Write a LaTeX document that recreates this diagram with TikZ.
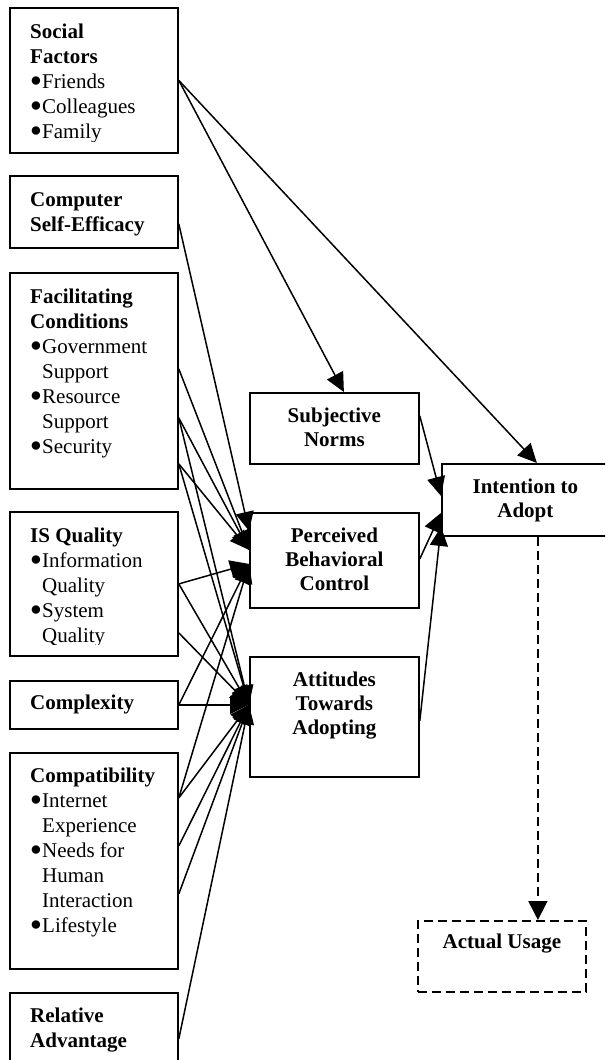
\documentclass[tikz,border=0pt]{standalone}
\usepackage{fontspec}
\setmainfont{Liberation Serif}
\usetikzlibrary{arrows.meta}
\newcommand\bul{\makebox[12pt][l]{\raisebox{2pt}{\fontsize{19.5}{25}\selectfont ●}}}
\newcommand\ind{\hspace*{12pt}}
\begin{document}
\begin{tikzpicture}[x=1pt,y=-1pt,
  box/.style={draw, line width=1.8pt, inner sep=0pt, anchor=north west, minimum width=168pt},
  ltext/.style={anchor=north west, inner sep=0pt, align=left, font=\fontsize{21}{25}\selectfont},
  ctext/.style={anchor=north, inner sep=0pt, align=center, font=\fontsize{21}{24}\selectfont\bfseries},
  conn/.style={line width=1.5pt, -{Triangle[length=19pt,width=18pt]}},
  dconn/.style={line width=1.8pt, dash pattern=on 9pt off 5pt, -{Triangle[length=19pt,width=19pt]}},
]
\useasboundingbox (0,0) rectangle (605,1060);
\clip (0,0) rectangle (605,1060);
% ---------- left column boxes ----------
\node[box, minimum height=145pt] (sf) at (9,7) {};
\node[box, minimum height=72pt] (cse) at (9,175) {};
\node[box, minimum height=216pt] (fc) at (9,272) {};
\node[box, minimum height=144pt] (isq) at (9,511) {};
\node[box, minimum height=48pt] (cx) at (9,680) {};
\node[box, minimum height=216pt] (cp) at (9,752) {};
\node[box, minimum height=72pt] (ra) at (9,992) {};
% ---------- left column texts ----------
\begin{scope}
\clip (sf.north west) rectangle ([yshift=12pt]sf.south east);
\node[ltext] (sft) at ([shift={(21pt,-13.5pt)}]sf.north west)
  {\strut\textbf{Social}\\\textbf{Factors}\\\bul Friends\\\bul Colleagues\\\bul Family};
\end{scope}
\node[ltext] (cset) at ([shift={(21pt,-13.5pt)}]cse.north west)
  {\strut\textbf{Computer}\\\textbf{Self-Efficacy}};
\node[ltext] (fct) at ([shift={(21pt,-13.5pt)}]fc.north west)
  {\strut\textbf{Facilitating}\\\textbf{Conditions}\\\bul Government\\\ind Support\\\bul Resource\\\ind Support\\\bul Security};
\begin{scope}
\clip (isq.north west) rectangle ([yshift=12pt]isq.south east);
\node[ltext] (isqt) at ([shift={(21pt,-13.5pt)}]isq.north west)
  {\strut\textbf{IS Quality}\\\bul Information\\\ind Quality\\\bul System\\\ind Quality};
\end{scope}
\node[ltext] (cxt) at ([shift={(21pt,-11.5pt)}]cx.north west)
  {\strut\textbf{Complexity}};
\node[ltext] (cpt) at ([shift={(21pt,-12.5pt)}]cp.north west)
  {\strut\textbf{Compatibility}\\\bul Internet\\\ind Experience\\\bul Needs for\\\ind Human\\\ind Interaction\\\bul Lifestyle};
\node[ltext] (rat) at ([shift={(21pt,-12.5pt)}]ra.north west)
  {\strut\textbf{Relative}\\\textbf{Advantage}};
% ---------- middle boxes ----------
\node[box, minimum width=169pt, minimum height=71pt] (sn) at (249,392) {};
\node[box, minimum width=169pt, minimum height=95pt] (pbc) at (249,512) {};
\node[box, minimum width=169pt, minimum height=120pt] (att) at (249,656) {};
\node[ctext] (snt) at ([yshift=-13.2pt]sn.north) {\strut Subjective\\Norms};
\node[ctext] (pbct) at ([yshift=-13.2pt]pbc.north) {\strut Perceived\\Behavioral\\Control};
\node[ctext] (attt) at ([yshift=-13.2pt]att.north) {\strut Attitudes\\Towards\\Adopting};
% ---------- right boxes ----------
\node[box, minimum width=167pt, minimum height=72pt] (int) at (441,463) {};
\node[ctext] (intt) at ([yshift=-13.2pt]int.north) {\strut Intention to\\Adopt};
\node[box, dash pattern=on 9pt off 5pt, minimum height=71pt] (au) at (417,920) {};
\node[ctext] (aut) at ([yshift=-11.2pt]au.north) {\strut Actual Usage};
% ---------- connectors ----------
\draw[conn] (sf.east) -- ([xshift=9.5pt]sn.north);
\draw[conn] (sf.east) -- ([xshift=11.5pt]int.north);
% to perceived behavioral control
\draw[conn] ([yshift=-12pt]cse.east) -- ([yshift=29.5pt]pbc.west);
\draw[conn] ([yshift=12pt]fc.east) -- ([yshift=10.5pt]pbc.west);
\draw[conn] ([yshift=-37pt]fc.east) -- ([yshift=10.5pt]pbc.west);
\draw[conn] ([yshift=-83pt]fc.east) -- ([yshift=10.5pt]pbc.west);
\draw[conn] (isq.east) -- ([yshift=-3.5pt]pbc.west);
\draw[conn] (cx.east) -- ([yshift=-3.5pt]pbc.west);
\draw[conn] ([yshift=63pt]cp.east) -- ([yshift=-3.5pt]pbc.west);
% to attitudes
\draw[conn] ([yshift=-37pt]fc.east) -- ([yshift=12pt]att.west);
\draw[conn] ([yshift=-83pt]fc.east) -- ([yshift=12pt]att.west);
\draw[conn] (isq.east) -- ([yshift=12pt]att.west);
\draw[conn] ([yshift=-49pt]isq.east) -- ([yshift=12pt]att.west);
\draw[conn] (cx.east) -- ([yshift=12pt]att.west);
\draw[conn] ([yshift=63pt]cp.east) -- ([yshift=12pt]att.west);
\draw[conn] ([yshift=15pt]cp.east) -- ([yshift=12pt]att.west);
\draw[conn] ([yshift=-33pt]cp.east) -- ([yshift=12pt]att.west);
\draw[conn] ([yshift=-10pt]ra.east) -- ([yshift=12pt]att.west);
% to intention
\draw[conn] ([yshift=12.5pt]sn.east) -- ([yshift=4pt]int.west);
\draw[conn] ([yshift=1.5pt]pbc.east) -- ([yshift=-13pt]int.west);
\draw[conn] ([yshift=-4pt]att.east) -- ([yshift=-27pt]int.west);
% to actual usage
\coordinate (ds) at ([xshift=12.5pt]int.south);
\draw[dconn] (ds) -- (ds |- au.north);
\end{tikzpicture}
\end{document}
